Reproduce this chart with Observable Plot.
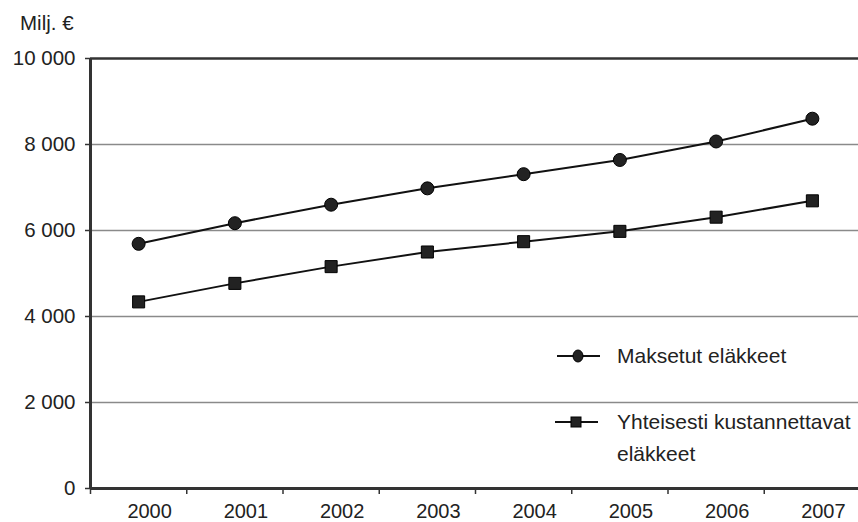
<!DOCTYPE html>
<html>
<head>
<meta charset="utf-8">
<script src="https://cdn.jsdelivr.net/npm/d3@7"></script>
<script src="https://cdn.jsdelivr.net/npm/@observablehq/plot@0.6"></script>
<style>
  html, body { margin: 0; padding: 0; background: #fff; overflow: hidden; }
  #wrap { position: relative; width: 858px; height: 522px; font-family: "Liberation Sans", Arial, sans-serif; color: #222; }
  #wrap svg { display: block; }
  .ov { position: absolute; font-size: 21px; line-height: 32px; white-space: nowrap; }
  .lg { position: absolute; }
</style>
</head>
<body>
<div id="wrap"></div>
<script>
const years = [2000, 2001, 2002, 2003, 2004, 2005, 2006, 2007];
const maksetut = [5690, 6170, 6600, 6980, 7310, 7640, 8070, 8600];
const yhteisesti = [4340, 4770, 5160, 5500, 5740, 5980, 6310, 6690];
const seriesNames = ["Maksetut eläkkeet", "Yhteisesti kustannettavat eläkkeet"];
const yTicks = [0, 2000, 4000, 6000, 8000, 10000];
const yUnit = "Milj. €";

const rows = years.flatMap((yr, i) => [
  {year: yr, value: maksetut[i], series: seriesNames[0]},
  {year: yr, value: yhteisesti[i], series: seriesNames[1]}
]);
const boundaries = years.map(y => y - 0.5).concat([years[years.length - 1] + 0.5]);
const fmt = v => d3.format(",")(v).replace(/,/g, " ");

const chart = Plot.plot({
  width: 858,
  height: 522,
  marginLeft: 90,
  marginRight: 0,
  marginTop: 58,
  marginBottom: 34,
  style: {fontFamily: "'Liberation Sans', Arial, sans-serif", fontSize: "20px", color: "#222", background: "#fff"},
  x: {domain: [years[0] - 0.5, years[years.length - 1] + 0.5], range: [90, 860]},
  y: {domain: [0, 10000]},
  marks: [
    Plot.ruleY(yTicks.filter(v => v > 0 && v < 10000), {stroke: "#8a8a8a", strokeWidth: 1.5}),
    Plot.ruleY([10000], {stroke: "#333", strokeWidth: 2.5}),
    Plot.axisY({ticks: yTicks, tickFormat: fmt, tickSize: 5, tickPadding: 10, label: null, stroke: "#333", strokeWidth: 1.5, fill: "#222", fontSize: 20.5}),
    Plot.axisX({ticks: boundaries.slice(0, -1), tickFormat: () => "", tickSize: 6, label: null, stroke: "#333", strokeWidth: 1.5}),
    Plot.axisX({ticks: years, tickFormat: d => String(d), tickSize: 0, tickPadding: 15, dx: 11, label: null, fill: "#222", fontSize: 20}),
    Plot.line(rows, {x: "year", y: "value", z: "series", stroke: "#111", strokeWidth: 2}),
    Plot.dot(rows.filter(d => d.series === seriesNames[0]), {x: "year", y: "value", symbol: "circle", r: 6.5, fill: "#222", stroke: "#000", strokeWidth: 1}),
    Plot.dot(rows.filter(d => d.series === seriesNames[1]), {x: "year", y: "value", symbol: "square", r: 6.8, fill: "#222", stroke: "#000", strokeWidth: 1}),
    Plot.ruleY([0], {stroke: "#333", strokeWidth: 3}),
    Plot.ruleX([boundaries[0]], {stroke: "#333", strokeWidth: 3})
  ]
});

const wrap = document.getElementById("wrap");
wrap.appendChild(chart);

// unit label
const unit = document.createElement("div");
unit.className = "ov";
unit.style.fontSize = "20.5px";
unit.style.left = "20px";
unit.style.top = "7px";
unit.textContent = yUnit;
wrap.appendChild(unit);

// legend
function legendSymbol(left, cy, kind) {
  const ns = "http://www.w3.org/2000/svg";
  const s = document.createElementNS(ns, "svg");
  s.setAttribute("width", 46); s.setAttribute("height", 18);
  s.setAttribute("class", "lg");
  s.style.left = left + "px"; s.style.top = (cy - 9) + "px";
  const l = document.createElementNS(ns, "line");
  l.setAttribute("x1", 1); l.setAttribute("x2", 44); l.setAttribute("y1", 9); l.setAttribute("y2", 9);
  l.setAttribute("stroke", "#111"); l.setAttribute("stroke-width", 2);
  s.appendChild(l);
  let m;
  if (kind === "circle") {
    m = document.createElementNS(ns, "ellipse");
    m.setAttribute("cx", 22); m.setAttribute("cy", 9); m.setAttribute("rx", 5); m.setAttribute("ry", 6);
  } else {
    m = document.createElementNS(ns, "rect");
    m.setAttribute("x", 17); m.setAttribute("y", 4); m.setAttribute("width", 10); m.setAttribute("height", 10);
  }
  m.setAttribute("fill", "#222"); m.setAttribute("stroke", "#000");
  s.appendChild(m);
  wrap.appendChild(s);
}
legendSymbol(556, 356, "circle");
legendSymbol(554, 422, "square");

const t1 = document.createElement("div");
t1.className = "ov"; t1.style.left = "617px"; t1.style.top = (356 - 16) + "px";
t1.textContent = seriesNames[0];
wrap.appendChild(t1);

const t2 = document.createElement("div");
t2.className = "ov"; t2.style.left = "617px"; t2.style.top = (422 - 16) + "px";
t2.innerHTML = "Yhteisesti kustannettavat<br>eläkkeet";
wrap.appendChild(t2);
</script>
</body>
</html>
